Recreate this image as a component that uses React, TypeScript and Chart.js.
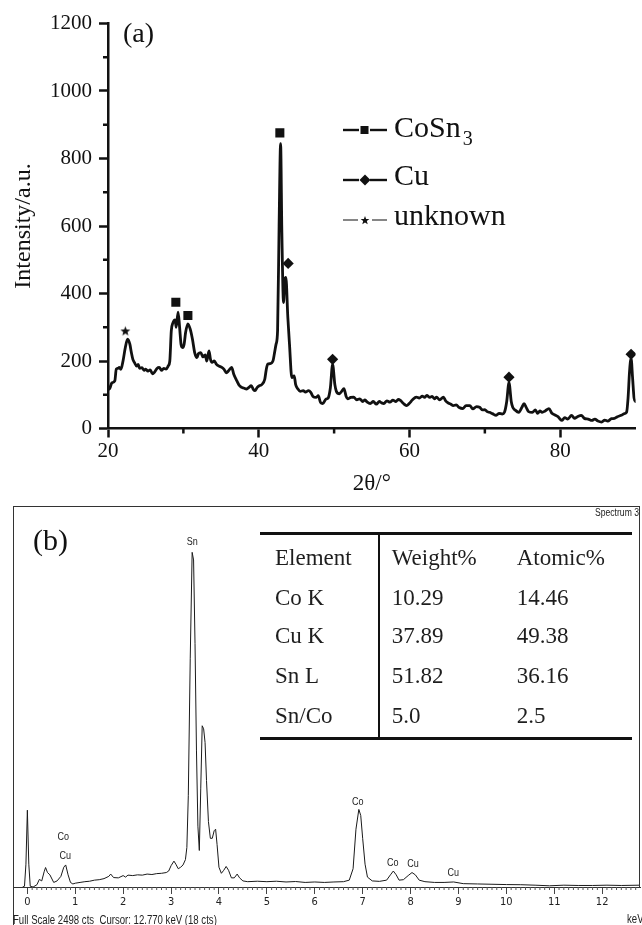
import React, { useEffect, useRef } from 'react';
import { Chart, registerables } from 'chart.js';
Chart.register(...registerables);

const SERIF = "'Liberation Serif', 'Times New Roman', serif";
const SANS = "'Liberation Sans', Arial, sans-serif";
const NARROW = "'Liberation Sans Narrow', 'DejaVu Sans Condensed', 'Liberation Sans', Arial, sans-serif";

// ---------- Panel (a): XRD pattern ----------
const xrdTwoTheta = [
  20.0, 20.2, 20.5, 20.9, 21.1, 21.3, 21.5, 21.7, 22.0, 22.3,
  22.6, 22.9, 23.1, 23.3, 23.5, 23.8, 24.0, 24.2, 24.5, 24.8,
  25.0, 25.3, 25.6, 25.9, 26.2, 26.5, 26.8, 27.1, 27.4, 27.7,
  28.0, 28.2, 28.4, 28.6, 28.9, 29.05, 29.3, 29.5, 29.7, 29.9,
  30.1, 30.3, 30.6, 30.9, 31.2, 31.5, 31.8, 32.0, 32.3, 32.6,
  32.9, 33.1, 33.4, 33.6, 33.8, 34.1, 34.4, 34.7, 35.1, 35.4,
  35.7, 36.0, 36.4, 36.7, 37.1, 37.4, 37.7, 38.0, 38.4, 38.7,
  39.0, 39.3, 39.5, 39.8, 40.1, 40.4, 40.8, 41.0, 41.2, 41.5,
  41.9, 42.1, 42.3, 42.5, 42.7, 42.9, 43.07, 43.29, 43.45, 43.6,
  43.86, 44.08, 44.39, 44.7, 44.9, 45.2, 45.5, 45.9, 46.2, 46.6,
  46.9, 47.2, 47.6, 47.9, 48.2, 48.5, 48.9, 49.2, 49.5, 49.8,
  50.1, 50.3, 50.7, 51.0, 51.3, 51.6, 51.8, 52.2, 52.6, 53.0,
  53.4, 53.8, 54.1, 54.4, 54.8, 55.2, 55.6, 56.0, 56.3, 56.6,
  57.0, 57.4, 57.8, 58.2, 58.5, 58.8, 59.2, 59.6, 60.0, 60.4,
  60.9, 61.3, 61.7, 62.0, 62.3, 62.7, 63.0, 63.3, 63.6, 64.0,
  64.5, 64.8, 65.2, 65.5, 65.8, 66.2, 66.6, 67.1, 67.5, 68.0,
  68.4, 68.9, 69.3, 69.7, 70.0, 70.3, 70.6, 71.0, 71.5, 71.9,
  72.3, 72.6, 72.9, 73.2, 73.5, 73.7, 74.0, 74.5, 74.9, 75.2,
  75.5, 75.8, 76.3, 76.7, 77.0, 77.3, 77.6, 78.0, 78.5, 78.9,
  79.3, 79.7, 80.2, 80.6, 81.0, 81.5, 81.9, 82.3, 82.8, 83.2,
  83.7, 84.2, 84.6, 85.0, 85.5, 85.9, 86.3, 86.8, 87.2, 87.6,
  88.1, 88.5, 88.8, 89.0, 89.2, 89.4, 89.6, 89.8, 90.0,
];
const xrdIntensity = [
  125, 117, 135, 141, 176, 178, 181, 175, 201, 240,
  265, 250, 225, 205, 196, 185, 190, 178, 180, 172,
  176, 170, 174, 162, 168, 178, 181, 172, 178, 176,
  186, 200, 290, 312, 322, 300, 345, 300, 248, 240,
  250, 285, 310, 295, 265, 225, 210, 222, 225, 212,
  218, 200, 230, 205, 196, 200, 190, 185, 181, 175,
  165, 171, 181, 160, 141, 128, 122, 120, 117, 122,
  127, 115, 112, 122, 127, 130, 146, 175, 191, 192,
  201, 225, 250, 290, 600, 844, 577, 373, 440, 448,
  329, 250, 151, 156, 130, 117, 110, 112, 108, 112,
  107, 95, 92, 97, 77, 74, 87, 90, 120, 190,
  130, 110, 103, 110, 118, 95, 88, 92, 93, 85,
  88, 80, 85, 78, 74, 80, 72, 80, 76, 74,
  82, 78, 84, 80, 86, 83, 74, 68, 75, 85,
  93, 90, 96, 92, 98, 92, 95, 88, 93, 85,
  93, 82, 75, 72, 68, 70, 62, 59, 68, 68,
  58, 65, 63, 55, 56, 50, 48, 44, 39, 45,
  43, 48, 80, 136, 80, 63, 55, 48, 62, 74,
  62, 50, 48, 55, 45, 52, 48, 52, 59, 45,
  40, 35, 24, 32, 28, 39, 30, 35, 39, 30,
  28, 24, 28, 22, 19, 25, 22, 29, 30, 35,
  39, 44, 48, 90, 170, 208, 150, 90, 80,
];
// phase markers (2θ, intensity of the marker)
const coSn3MarkTwoTheta = [29.0, 30.6, 42.8];
const coSn3MarkIntensity = [374, 335, 876];
const cuMarkTwoTheta = [43.9, 49.8, 73.2, 89.4];
const cuMarkIntensity = [489, 205, 152, 220];
const unknownMarkTwoTheta = [22.3];
const unknownMarkIntensity = [289];
const xrdMinorX = [30, 50, 70];
const xrdMinorY = [100, 300, 500, 700, 900, 1100];
const legendLabels = ['CoSn', 'Cu', 'unknown'];

// ---------- Panel (b): EDS spectrum ----------
const edsEnergy = [
  -0.1, -0.06, -0.03, 0, 0.03, 0.06, 0.12, 0.2, 0.25, 0.3,
  0.35, 0.38, 0.42, 0.47, 0.55, 0.62, 0.7, 0.76, 0.8, 0.85,
  0.9, 0.95, 1.0, 1.1, 1.2, 1.3, 1.4, 1.5, 1.6, 1.7,
  1.74, 1.8, 1.9, 2.0, 2.05, 2.1, 2.2, 2.3, 2.4, 2.5,
  2.6, 2.7, 2.8, 2.9, 2.95, 3.0, 3.06, 3.1, 3.15, 3.2,
  3.25, 3.3, 3.33, 3.36, 3.4, 3.44, 3.47, 3.5, 3.53, 3.56,
  3.59, 3.62, 3.65, 3.68, 3.71, 3.74, 3.78, 3.82, 3.86, 3.9,
  3.93, 3.96, 4.0, 4.05, 4.1, 4.15, 4.2, 4.26, 4.32, 4.38,
  4.43, 4.5, 4.6, 4.8, 5.0, 5.2, 5.4, 5.6, 5.8, 6.0,
  6.2, 6.4, 6.6, 6.72, 6.8, 6.86, 6.92, 6.96, 7.0, 7.05,
  7.1, 7.2, 7.35, 7.5, 7.58, 7.64, 7.7, 7.76, 7.85, 7.95,
  8.03, 8.1, 8.18, 8.3, 8.5, 8.7, 8.9, 9.1, 9.4, 9.7,
  10.0, 10.3, 10.6, 10.9, 11.2, 11.5, 11.8, 12.1, 12.4, 12.79,
];
const edsCounts = [
  0, 5, 150, 505, 150, 5, 0, 15, 50, 40,
  100, 128, 95, 80, 30, 40, 70, 130, 145, 80,
  30, 20, 25, 30, 35, 38, 45, 48, 55, 70,
  85, 62, 60, 75, 65, 78, 75, 80, 78, 85,
  82, 88, 90, 95, 105, 140, 170, 150, 120, 130,
  145, 180, 260, 600, 1500, 2200, 2150, 1600, 900, 400,
  240, 650, 1060, 1040, 950, 700, 430, 320, 320, 370,
  380, 280, 130, 90, 110, 135, 110, 60, 60, 85,
  60, 40, 35, 38, 35, 38, 33, 36, 30, 33,
  30, 33, 35, 45, 120, 380, 510, 470, 320, 150,
  65, 40, 37, 45, 80, 105, 80, 45, 48, 75,
  95, 80, 45, 35, 30, 30, 33, 22, 20, 18,
  16, 15, 12, 8, 12, 10, 10, 12, 10, 12,
];
const edsFullScale = 2498;
const edsPeakText = ['Sn', 'Co', 'Cu', 'Co', 'Co', 'Cu', 'Cu'];
const edsPeakKeV = [3.44, 0.75, 0.79, 6.9, 7.63, 8.05, 8.89];
const edsPeakCounts = [2268, 331, 204, 557, 160, 149, 90];

const tableHeader = ['Element', 'Weight%', 'Atomic%'];
const tableElement = ['Co K', 'Cu K', 'Sn L', 'Sn/Co'];
const tableWeight = ['10.29', '37.89', '51.82', '5.0'];
const tableAtomic = ['14.46', '49.38', '36.16', '2.5'];

function makeMinorTicks(xs: number[], ys: number[], len: number, width: number, color: string) {
  return {
    id: 'minorTicks',
    afterDraw(chart: any) {
      const { ctx, chartArea, scales } = chart;
      ctx.save();
      ctx.strokeStyle = color;
      ctx.lineWidth = width;
      ctx.beginPath();
      xs.forEach((v) => {
        const px = scales.x.getPixelForValue(v);
        ctx.moveTo(px, chartArea.bottom);
        ctx.lineTo(px, chartArea.bottom + len);
      });
      ys.forEach((v) => {
        const py = scales.y.getPixelForValue(v);
        ctx.moveTo(chartArea.left, py);
        ctx.lineTo(chartArea.left - len, py);
      });
      ctx.stroke();
      ctx.restore();
    },
  };
}

function XrdChart() {
  const ref = useRef<HTMLCanvasElement>(null);
  useEffect(() => {
    const star = document.createElement('canvas');
    star.width = 11;
    star.height = 11;
    const sctx = star.getContext('2d')!;
    sctx.fillStyle = '#111';
    sctx.beginPath();
    for (let i = 0; i < 10; i++) {
      const r = i % 2 === 0 ? 5.2 : 2.2;
      const a = -Math.PI / 2 + (i * Math.PI) / 5;
      const px = 5.5 + r * Math.cos(a);
      const py = 5.9 + r * Math.sin(a);
      if (i === 0) sctx.moveTo(px, py);
      else sctx.lineTo(px, py);
    }
    sctx.closePath();
    sctx.fill();

    const pts = (xs: number[], ys: number[]) => xs.map((x, i) => ({ x, y: ys[i] }));
    const markerBase = { showLine: false, pointBorderWidth: 0, pointBackgroundColor: '#111', pointBorderColor: '#111', borderColor: '#111' };
    const tickFont = { family: SERIF, size: 21 };
    const chart = new Chart(ref.current!, {
      type: 'line',
      data: {
        datasets: [
          {
            data: pts(xrdTwoTheta, xrdIntensity),
            borderColor: '#111',
            borderWidth: 2.8,
            pointRadius: 0,
            cubicInterpolationMode: 'monotone',
            borderJoinStyle: 'round',
            borderCapStyle: 'round',
            fill: false,
          } as any,
          { ...markerBase, data: pts(coSn3MarkTwoTheta, coSn3MarkIntensity), pointStyle: 'rect', pointRadius: 6.4 } as any,
          { ...markerBase, data: pts(cuMarkTwoTheta, cuMarkIntensity), pointStyle: 'rectRot', pointRadius: 5.6 } as any,
          { ...markerBase, data: pts(unknownMarkTwoTheta, unknownMarkIntensity), pointStyle: star, pointRadius: 5 } as any,
        ],
      },
      options: {
        responsive: false,
        animation: false,
        events: [],
        layout: { padding: { left: 0, right: 0.6, top: 23.5, bottom: 0 } },
        plugins: { legend: { display: false }, tooltip: { enabled: false } },
        scales: {
          x: {
            type: 'linear',
            min: 20,
            max: 90,
            ticks: { stepSize: 20, includeBounds: false, font: tickFont, color: '#111', padding: 1, maxRotation: 0, autoSkip: false, callback: (v: any) => String(v) },
            grid: { drawOnChartArea: false, drawTicks: true, tickLength: 9, tickWidth: 2.5, tickColor: '#111' },
            border: { display: true, color: '#111', width: 2.5 },
            title: { display: true, text: '2θ/°', font: { family: SERIF, size: 23 }, color: '#111', padding: { top: 0, bottom: 2 } },
            afterFit: (s: any) => { s.height = 71.5; },
          },
          y: {
            min: 0,
            max: 1200,
            ticks: { stepSize: 200, font: tickFont, color: '#111', padding: 7, callback: (v: any) => String(v) },
            grid: { drawOnChartArea: false, drawTicks: true, tickLength: 9, tickWidth: 2.5, tickColor: '#111' },
            border: { display: true, color: '#111', width: 2.5 },
            title: { display: true, text: 'Intensity/a.u.', font: { family: SERIF, size: 24 }, color: '#111', padding: { top: 9, bottom: 0 } },
            afterFit: (s: any) => { s.width = 108; },
          },
        },
      } as any,
      plugins: [makeMinorTicks(xrdMinorX, xrdMinorY, 5, 2.5, '#111')],
    });
    return () => chart.destroy();
  }, []);
  return <canvas ref={ref} width={642} height={500} style={{ position: 'absolute', left: 0, top: 0, width: 642, height: 500 }} />;
}

function EdsChart() {
  const ref = useRef<HTMLCanvasElement>(null);
  useEffect(() => {
    const minorX: number[] = [];
    for (let k = 1; k <= 127; k++) if (k % 10 !== 0) minorX.push(k / 10);
    const peakLabels = {
      id: 'peakLabels',
      afterDatasetsDraw(chart: any) {
        const { ctx, scales } = chart;
        ctx.save();
        ctx.fillStyle = '#222';
        ctx.font = `11px ${SANS}`;
        ctx.textAlign = 'center';
        ctx.textBaseline = 'middle';
        edsPeakText.forEach((t, i) => {
          const px = scales.x.getPixelForValue(edsPeakKeV[i]);
          const py = scales.y.getPixelForValue(edsPeakCounts[i]);
          ctx.save();
          ctx.translate(px, py);
          ctx.scale(0.82, 1);
          ctx.fillText(t, 0, 0);
          ctx.restore();
        });
        ctx.restore();
      },
    };
    const chart = new Chart(ref.current!, {
      type: 'line',
      data: {
        datasets: [
          {
            data: edsEnergy.map((x, i) => ({ x, y: edsCounts[i] })),
            borderColor: '#1a1a1a',
            borderWidth: 1,
            pointRadius: 0,
            tension: 0,
            fill: false,
          } as any,
        ],
      },
      options: {
        responsive: false,
        animation: false,
        events: [],
        layout: { padding: { left: 13, right: 2, top: 37, bottom: 0 } },
        plugins: { legend: { display: false }, tooltip: { enabled: false } },
        scales: {
          x: {
            type: 'linear',
            min: -0.3,
            max: 12.79,
            ticks: { stepSize: 1, includeBounds: false, font: { family: NARROW, size: 11 }, color: '#222', padding: 2, maxRotation: 0, autoSkip: false, callback: (v: any) => String(v) },
            grid: { drawOnChartArea: false, drawTicks: true, tickLength: 7, tickWidth: 1, tickColor: '#444' },
            border: { display: true, color: '#333', width: 1 },
            afterFit: (s: any) => { s.height = 38; },
          },
          y: { display: false, min: 0, max: edsFullScale },
        },
      } as any,
      plugins: [makeMinorTicks(minorX, [], 3, 1, '#555'), peakLabels],
    });
    return () => chart.destroy();
  }, []);
  return <canvas ref={ref} width={642} height={455} style={{ position: 'absolute', left: 0, top: 470, width: 642, height: 455 }} />;
}

function LegendSymbol({ top, kind }: { top: number; kind: 'square' | 'diamond' | 'star' }) {
  const thin = kind === 'star';
  const stroke = thin ? '#444' : '#111';
  const sw = thin ? 1.3 : 2.4;
  let marker: any = null;
  if (kind === 'square') marker = <rect x={17.5} y={6} width={8} height={8} fill="#111" />;
  if (kind === 'diamond') marker = <polygon points="22,4.5 27.5,10 22,15.5 16.5,10" fill="#111" />;
  if (kind === 'star') {
    const p: string[] = [];
    for (let i = 0; i < 10; i++) {
      const r = i % 2 === 0 ? 4.6 : 1.9;
      const a = -Math.PI / 2 + (i * Math.PI) / 5;
      p.push(`${(22 + r * Math.cos(a)).toFixed(2)},${(10.5 + r * Math.sin(a)).toFixed(2)}`);
    }
    marker = <polygon points={p.join(' ')} fill="#111" />;
  }
  return (
    <svg width={45} height={20} style={{ position: 'absolute', left: 343, top }}>
      <line x1={0} y1={10} x2={kind === 'star' ? 15 : 16} y2={10} stroke={stroke} strokeWidth={sw} />
      {marker}
      <line x1={kind === 'star' ? 29 : 27} y1={10} x2={44} y2={10} stroke={stroke} strokeWidth={sw} />
    </svg>
  );
}

export default function App() {
  const serifText = (size: number) => ({ position: 'absolute' as const, fontFamily: SERIF, fontSize: size, lineHeight: `${size}px`, color: '#111', whiteSpace: 'nowrap' as const });
  const rowTops = [545.7, 585.7, 623.7, 663.7, 703.7];
  const colLefts = [275, 391.7, 516.7];
  const tableText = (left: number, top: number, text: string, key: string) => (
    <div key={key} style={{ ...serifText(23), left, top, color: '#1e1e1e' }}>{text}</div>
  );
  return (
    <div style={{ position: 'absolute', left: 0, top: 0, width: 642, height: 925, overflow: 'hidden', background: '#fff' }}>
      <XrdChart />
      <EdsChart />

      {/* panel (a) annotations */}
      <div style={{ ...serifText(28), left: 123, top: 18.5 }}>(a)</div>
      <LegendSymbol top={120} kind="square" />
      <LegendSymbol top={170} kind="diamond" />
      <LegendSymbol top={210} kind="star" />
      <div style={{ ...serifText(30), left: 394, top: 112 }}>
        {legendLabels[0]}
        <span style={{ fontSize: 20, position: 'relative', top: 8, marginLeft: 2 }}>3</span>
      </div>
      <div style={{ ...serifText(30), left: 394, top: 160 }}>{legendLabels[1]}</div>
      <div style={{ ...serifText(30), left: 394, top: 200 }}>{legendLabels[2]}</div>

      {/* panel (b) frame */}
      <div style={{ position: 'absolute', left: 13, top: 506, width: 627, height: 381, borderTop: '1px solid #333', borderLeft: '1px solid #333', borderRight: '1px solid #333', boxSizing: 'border-box' }} />
      <div style={{ position: 'absolute', left: 13, top: 887, width: 1, height: 38, background: '#333' }} />
      <div style={{ ...serifText(30), left: 33, top: 525 }}>(b)</div>
      <div style={{ position: 'absolute', left: 560, top: 507, width: 79, height: 14, overflow: 'hidden' }}>
        <div style={{ position: 'absolute', left: 35, top: 1, fontFamily: SANS, fontSize: 10, lineHeight: '10px', color: '#222', whiteSpace: 'nowrap', transform: 'scaleX(0.86)', transformOrigin: 'left top' }}>Spectrum 3</div>
      </div>

      {/* table */}
      <div style={{ position: 'absolute', left: 260, top: 531.5, width: 372, height: 3, background: '#111' }} />
      <div style={{ position: 'absolute', left: 260, top: 736.5, width: 372, height: 3, background: '#111' }} />
      <div style={{ position: 'absolute', left: 377.5, top: 533, width: 2, height: 205, background: '#111' }} />
      {tableHeader.map((h, i) => tableText(colLefts[i], rowTops[0], h, 'h' + i))}
      {tableElement.map((e, r) => [
        tableText(colLefts[0], rowTops[r + 1], e, 'e' + r),
        tableText(colLefts[1], rowTops[r + 1], tableWeight[r], 'w' + r),
        tableText(colLefts[2], rowTops[r + 1], tableAtomic[r], 'a' + r),
      ])}

      {/* footer */}
      <div style={{ position: 'absolute', left: 13, top: 914, fontFamily: SANS, fontSize: 12, lineHeight: '12px', color: '#222', whiteSpace: 'pre', transform: 'scaleX(0.8)', transformOrigin: 'left top' }}>{`Full Scale ${edsFullScale} cts  Cursor: 12.770 keV (18 cts)`}</div>
      <div style={{ position: 'absolute', left: 627, top: 913, fontFamily: SANS, fontSize: 12, lineHeight: '12px', color: '#222', whiteSpace: 'pre', transform: 'scaleX(0.8)', transformOrigin: 'left top' }}>keV</div>
    </div>
  );
}
